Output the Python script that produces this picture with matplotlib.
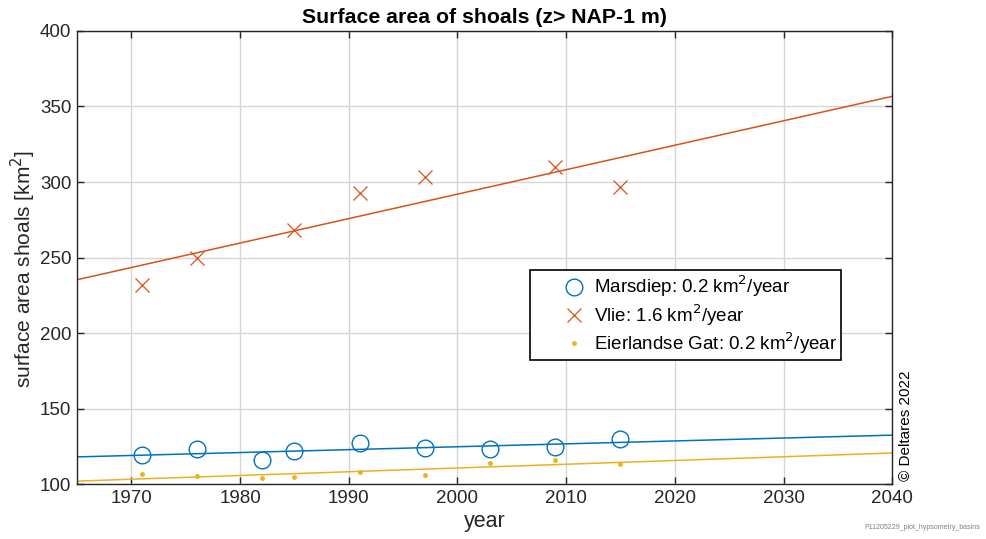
import numpy as np
import matplotlib
matplotlib.use("Agg")
import matplotlib.pyplot as plt

plt.rcParams['font.family'] = ['Liberation Sans', 'DejaVu Sans']

# survey years and shoal area (km2) per inlet
years_marsdiep = [1971, 1976, 1982, 1985, 1991, 1997, 2003, 2009, 2015]
area_marsdiep = [119, 123, 116, 122, 127, 124, 123, 124.5, 130]

years_vlie = [1971, 1976, 1985, 1991, 1997, 2009, 2015]
area_vlie = [232, 250, 268, 293, 303, 310, 297]

years_eierland = [1971, 1976, 1982, 1985, 1991, 1997, 2003, 2009, 2015]
area_eierland = [106.5, 105.2, 104.3, 104.8, 107.8, 106.1, 113.8, 116, 113.4]

labels = ["Marsdiep: 0.2 km$^2$/year",
          "Vlie: 1.6 km$^2$/year",
          "Eierlandse Gat: 0.2 km$^2$/year"]

c_blue = '#0072BD'
c_orange = '#D95319'
c_yellow = '#EDB120'
c_axis = '#262626'

fig = plt.figure(figsize=(9.87, 5.39), dpi=100)
ax = fig.add_axes([0.078, 0.102, 0.826, 0.8405])

# linear trend per inlet
xfit = np.array([1965, 2040])
for yrs, vals, col in [(years_marsdiep, area_marsdiep, c_blue),
                       (years_vlie, area_vlie, c_orange),
                       (years_eierland, area_eierland, c_yellow)]:
    p = np.polyfit(yrs, vals, 1)
    ax.plot(xfit, np.polyval(p, xfit), color=col, lw=1.1, zorder=2)

ax.plot(years_marsdiep, area_marsdiep, 'o', ms=12, mfc='none', mec=c_blue,
        mew=1.0, ls='none', label=labels[0], zorder=3)
ax.plot(years_vlie, area_vlie, 'x', ms=10, mec=c_orange, mew=0.9,
        ls='none', label=labels[1], zorder=3)
ax.plot(years_eierland, area_eierland, '.', ms=5, color=c_yellow,
        ls='none', label=labels[2], zorder=3)

ax.set_xlim(1965, 2040)
ax.set_ylim(100, 400)
ax.set_xticks(range(1970, 2041, 10))
ax.set_yticks(range(100, 401, 50))
ax.grid(True, color='#d6d6d6', lw=1.0)
ax.set_axisbelow(True)
ax.tick_params(direction='in', top=True, right=True, length=5, width=1,
               color=c_axis, labelcolor=c_axis, labelsize=13.5, pad=4)
for s in ax.spines.values():
    s.set_color(c_axis)
    s.set_linewidth(1.0)

ax.set_title("Surface area of shoals (z> NAP-1 m)", fontsize=15.3, fontweight='bold',
             color='black', pad=6)
ax.set_xlabel("year", fontsize=15.5, color=c_axis, labelpad=3)
ax.set_ylabel("surface area shoals [km$^2$]", fontsize=15, color=c_axis)
ax.yaxis.set_label_coords(-0.048, 0.475)

leg = ax.legend(loc='upper left', bbox_to_anchor=(0.556, 0.4724), fontsize=13.5,
                frameon=True, fancybox=False, edgecolor='black', framealpha=1,
                handlelength=4.3, handletextpad=-1.08, borderpad=0.2,
                labelspacing=0.15, borderaxespad=0)
leg.get_frame().set_linewidth(1.2)

fig.text(0.918, 0.108, "\u00a9 Deltares 2022", rotation=90, ha='center', va='bottom',
         fontsize=11, color='black')
fig.text(0.993, 0.022, "P11205229_plot_hypsometry_basins", ha='right', va='center',
         fontsize=5, color='#808080')

fig.savefig("out.png", dpi=100)
